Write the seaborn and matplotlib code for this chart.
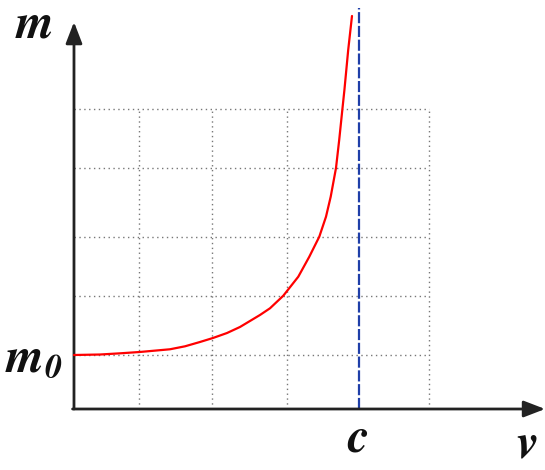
import matplotlib
matplotlib.use('Agg')
import matplotlib.pyplot as plt
import seaborn as sns
import pandas as pd

# curve: v in units of c, m in units of m0
v_over_c = [0.0000, 0.0912, 0.1614, 0.2316, 0.3368, 0.3895, 0.4421, 0.4877, 0.5368, 0.5825,
            0.6526, 0.6877, 0.7344, 0.7870, 0.8256, 0.8607, 0.8842, 0.9007, 0.9193, 0.9305,
            0.9418, 0.9488, 0.9621, 0.9754]
m_over_m0 = [1.000, 1.009, 1.031, 1.056, 1.106, 1.161, 1.241, 1.315, 1.407, 1.519,
             1.741, 1.865, 2.098, 2.450, 2.820, 3.191, 3.561, 3.931, 4.463, 4.981,
             5.556, 5.907, 6.648, 7.278]

# dotted grid positions
grid_v = [0.228, 0.484, 0.747, 1.246]
grid_m = [1.0, 2.093, 3.185, 4.463, 5.556]
c_value = 1.0

sns.set_style('white')
plt.rcParams['mathtext.fontset'] = 'stix'

df = pd.DataFrame({'v': v_over_c, 'm': m_over_m0})

fig = plt.figure(figsize=(5.45, 4.70), dpi=100)
ax = fig.add_axes([0, 0, 1, 1])
ax.set_xlim(-0.2596, 1.6526)
ax.set_ylim(-1.1296, 7.574)
ax.axis('off')

# grid (only inside the drawn area)
for g in grid_v:
    ax.vlines(g, 0, grid_m[-1], colors='#777777', linestyles=(0, (1, 2.5)), lw=1.0)
for g in grid_m:
    ax.hlines(g, 0, grid_v[-1], colors='#777777', linestyles=(0, (1, 2.5)), lw=1.0)

# speed of light
ax.vlines(c_value, 0, 7.426, colors='#1f3fa8', linestyles=(0, (5, 1.2)), lw=1.6, zorder=3)

sns.lineplot(data=df, x='v', y='m', color='#ff0000', lw=1.6, ax=ax, sort=False, zorder=4)

# axes with arrows
arrow = dict(arrowstyle='-|>,head_length=1.3,head_width=0.5', color='#222222', lw=2.0,
             shrinkA=0, shrinkB=0)
ax.annotate('', xy=(0, 7.167), xytext=(0, 0), arrowprops=arrow)
ax.annotate('', xy=(1.653, 0), xytext=(-0.005, 0), arrowprops=arrow)

fs = 35
ax.text(-0.140, 7.148, r'$\mathbfit{m}$', fontsize=fs, ha='center', va='center', color='#111111')
ax.text(-0.042, 0.95, r'$\mathbfit{m}_{\mathbfit{0}}$', fontsize=fs, ha='right', va='center', color='#111111')
ax.text(0.996, -0.537, r'$\mathbfit{c}$', fontsize=fs, ha='center', va='center', color='#111111')
ax.text(1.588, -0.64, r'$\mathbfit{v}$', fontsize=fs, ha='center', va='center', color='#111111')

fig.savefig('out.png', dpi=100)
